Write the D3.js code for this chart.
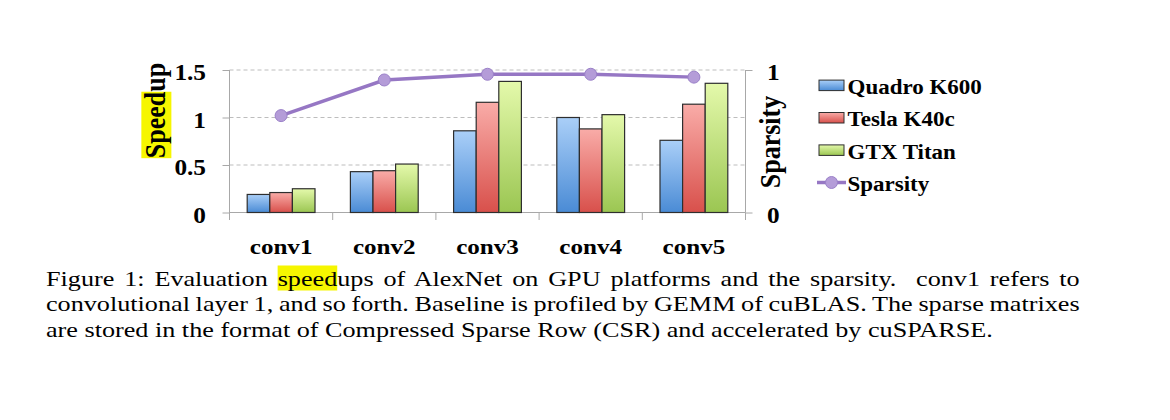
<!DOCTYPE html>
<html>
<head>
<meta charset="utf-8">
<script src="https://cdn.jsdelivr.net/npm/d3@7"></script>
<style>
  body { margin: 0; background: #fff; }
  svg { display: block; }
  text { font-family: "Liberation Serif", "Times New Roman", serif; fill: #000; }
</style>
</head>
<body>
<svg id="chart" width="1170" height="420"></svg>
<script>
var categories = ['conv1', 'conv2', 'conv3', 'conv4', 'conv5'];
var seriesNames = ['Quadro K600', 'Tesla K40c', 'GTX Titan'];
var quadro = [0.19, 0.43, 0.86, 1.00, 0.76];
var tesla = [0.21, 0.44, 1.16, 0.88, 1.14];
var titan = [0.25, 0.51, 1.38, 1.03, 1.36];
var sparsity = [0.68, 0.93, 0.97, 0.97, 0.95];
var speedupTicks = [0, 0.5, 1, 1.5];
var sparsityTicks = [0, 1];
var captionLines = [
  'Figure 1: Evaluation speedups of AlexNet on GPU platforms and the sparsity.  conv1 refers to',
  'convolutional layer 1, and so forth. Baseline is profiled by GEMM of cuBLAS. The sparse matrixes',
  'are stored in the format of Compressed Sparse Row (CSR) and accelerated by cuSPARSE.'
];

var LEFT = 229.5, RIGHT = 745.5, TOP = 70, BOTTOM = 212.5;
var svg = d3.select('#chart');

// the figure in the paper is a bitmap stretched sideways, so text is widened too
function widen(sel, sx) {
  sel.each(function () {
    var t = d3.select(this);
    var x0 = +t.attr('x') || 0;
    t.attr('transform', 'translate(' + (x0 * (1 - sx)) + ',0) scale(' + sx + ',1)');
  });
  return sel;
}

var colors = [
  { top: '#aacff8', bottom: '#4a8bd5' },
  { top: '#f9aca8', bottom: '#d8504b' },
  { top: '#e4f9ab', bottom: '#9bc652' }
];

var defs = svg.append('defs');
colors.forEach(function (c, i) {
  var g = defs.append('linearGradient').attr('id', 'grad' + i)
    .attr('x1', 0).attr('y1', 0).attr('x2', 0).attr('y2', 1);
  g.append('stop').attr('offset', '0%').attr('stop-color', c.top);
  g.append('stop').attr('offset', '100%').attr('stop-color', c.bottom);
});

var x = d3.scaleBand().domain(categories).range([LEFT, RIGHT])
  .paddingInner(0.343).paddingOuter(0.1715);
var xSub = d3.scaleBand().domain(d3.range(3)).range([0, x.bandwidth()]);
var y = d3.scaleLinear().domain([0, 1.5]).range([BOTTOM, TOP]);
var y2 = d3.scaleLinear().domain([0, 1]).range([BOTTOM, TOP]);

// gridlines
svg.append('g').selectAll('line').data(speedupTicks.filter(function (d) { return d > 0; }))
  .enter().append('line')
  .attr('x1', LEFT).attr('x2', RIGHT)
  .attr('y1', function (d) { return y(d); }).attr('y2', function (d) { return y(d); })
  .attr('stroke', '#bdbdbd').attr('stroke-width', 1).attr('stroke-dasharray', '4,3');

// left axis
var leftAxis = svg.append('g').attr('transform', 'translate(' + LEFT + ',0)')
  .call(d3.axisLeft(y).tickValues(speedupTicks).tickSize(7).tickFormat(''));
leftAxis.select('.domain').remove();
leftAxis.selectAll('line').attr('stroke', '#a8a8a8');
svg.append('line').attr('x1', LEFT).attr('x2', LEFT).attr('y1', TOP).attr('y2', BOTTOM + 7.5)
  .attr('stroke', '#a8a8a8');

// right axis
var rightAxis = svg.append('g').attr('transform', 'translate(' + RIGHT + ',0)')
  .call(d3.axisRight(y2).tickValues(sparsityTicks).tickSize(7).tickFormat(''));
rightAxis.select('.domain').attr('stroke', '#a8a8a8').attr('d', 'M0,' + TOP + 'V' + BOTTOM);
rightAxis.selectAll('line').attr('stroke', '#a8a8a8');

// x axis
svg.append('line').attr('x1', LEFT).attr('x2', RIGHT).attr('y1', BOTTOM).attr('y2', BOTTOM)
  .attr('stroke', '#a8a8a8');
svg.append('g').selectAll('line').data(d3.range(categories.length + 1)).enter().append('line')
  .attr('x1', function (i) { return LEFT + i * x.step(); })
  .attr('x2', function (i) { return LEFT + i * x.step(); })
  .attr('y1', BOTTOM).attr('y2', BOTTOM + 7.5)
  .attr('stroke', '#a8a8a8');

// tick labels
widen(svg.append('g').selectAll('text').data(speedupTicks).enter().append('text')
  .attr('x', 206).attr('y', function (d) { return y(d) + 10.5; })
  .attr('text-anchor', 'end').attr('font-size', 23).attr('font-weight', 'bold')
  .text(function (d) { return d; }), 1.1);
widen(svg.append('g').selectAll('text').data(sparsityTicks).enter().append('text')
  .attr('x', 767).attr('y', function (d) { return y2(d) + 10.5; })
  .attr('text-anchor', 'start').attr('font-size', 23).attr('font-weight', 'bold')
  .text(function (d) { return d; }), 1.1);
widen(svg.append('g').selectAll('text').data(categories).enter().append('text')
  .attr('x', function (d) { return x(d) + x.bandwidth() / 2; }).attr('y', 254)
  .attr('text-anchor', 'middle').attr('font-size', 22).attr('font-weight', 'bold')
  .text(function (d) { return d; }), 1.14);

// bars
var series = [quadro, tesla, titan];
series.forEach(function (vals, s) {
  svg.append('g').selectAll('rect').data(vals).enter().append('rect')
    .attr('x', function (d, i) { return x(categories[i]) + xSub(s); })
    .attr('y', function (d) { return y(d); })
    .attr('width', xSub.bandwidth())
    .attr('height', function (d) { return BOTTOM - y(d); })
    .attr('fill', 'url(#grad' + s + ')')
    .attr('stroke', '#2e2e2e').attr('stroke-width', 1.2);
});

// sparsity line
var line = d3.line()
  .x(function (d, i) { return x(categories[i]) + x.bandwidth() / 2; })
  .y(function (d) { return y2(d); });
svg.append('path').datum(sparsity).attr('d', line)
  .attr('fill', 'none').attr('stroke', '#9677c4').attr('stroke-width', 3.5);
svg.append('g').selectAll('circle').data(sparsity).enter().append('circle')
  .attr('cx', function (d, i) { return x(categories[i]) + x.bandwidth() / 2; })
  .attr('cy', function (d) { return y2(d); })
  .attr('r', 6).attr('fill', '#b49cd8').attr('stroke', '#9a80c8').attr('stroke-width', 1);

// axis titles
var sp = svg.append('g').attr('transform', 'translate(165,110.5) rotate(-90) scale(1,1.1)');
var spHi = sp.append('rect').attr('fill', '#f6f600');
var spText = sp.append('text').attr('text-anchor', 'middle')
  .attr('font-size', 26).attr('font-weight', 'bold').text('Speedup');
var spLen = spText.node().getComputedTextLength();
var speedLen = spText.node().getSubStringLength(0, 5);
spHi.attr('x', -spLen / 2).attr('width', speedLen).attr('y', -21.5).attr('height', 27.3);

svg.append('text').attr('transform', 'translate(780,142) rotate(-90) scale(1,1.1)')
  .attr('text-anchor', 'middle').attr('font-size', 26).attr('font-weight', 'bold')
  .text('Sparsity');

// legend
var legend = svg.append('g').attr('transform', 'translate(819,0)');
seriesNames.forEach(function (name, i) {
  var cy = 85.3 + i * 32.4;
  legend.append('rect').attr('x', 0).attr('y', cy - 5.2).attr('width', 25).attr('height', 10.5)
    .attr('fill', 'url(#grad' + i + ')').attr('stroke', '#2e2e2e').attr('stroke-width', 1);
  widen(legend.append('text').attr('x', 28.5).attr('y', cy + 8.7)
    .attr('font-size', 20).attr('font-weight', 'bold').text(name), 1.15);
});
var ly = 85.3 + 3 * 32.4;
legend.append('line').attr('x1', -2).attr('x2', 27).attr('y1', ly).attr('y2', ly)
  .attr('stroke', '#9677c4').attr('stroke-width', 3.5);
legend.append('circle').attr('cx', 12.5).attr('cy', ly).attr('r', 6)
  .attr('fill', '#b49cd8').attr('stroke', '#9a80c8');
widen(legend.append('text').attr('x', 28.5).attr('y', ly + 8.7)
  .attr('font-size', 20).attr('font-weight', 'bold').text('Sparsity'), 1.15);

// caption
var CAP_X = 46, CAP_W = 1034, CAP_SX = 1.19;
var capHi = svg.append('rect').attr('fill', '#f6f600');
captionLines.forEach(function (t, i) {
  var txt = svg.append('text').attr('x', CAP_X).attr('y', 285.7 + i * 25.5)
    .attr('font-size', 22).style('white-space', 'pre').text(t);
  if (i < captionLines.length - 1) {
    var natural = txt.node().getComputedTextLength();
    var spaces = t.split(' ').length - 1;
    txt.attr('word-spacing', (CAP_W / CAP_SX - natural) / spaces);
  }
  widen(txt, CAP_SX);
  if (i === 0) {
    var idx = t.indexOf('speed');
    var node = txt.node();
    var start = node.getStartPositionOfChar(idx).x;
    var end = node.getEndPositionOfChar(idx + 4).x;
    var sx0 = CAP_X + (start - CAP_X) * CAP_SX;
    var sx1 = CAP_X + (end - CAP_X) * CAP_SX;
    capHi.attr('x', sx0).attr('width', sx1 - sx0).attr('y', 265.5).attr('height', 25);
  }
});
</script>
</body>
</html>
